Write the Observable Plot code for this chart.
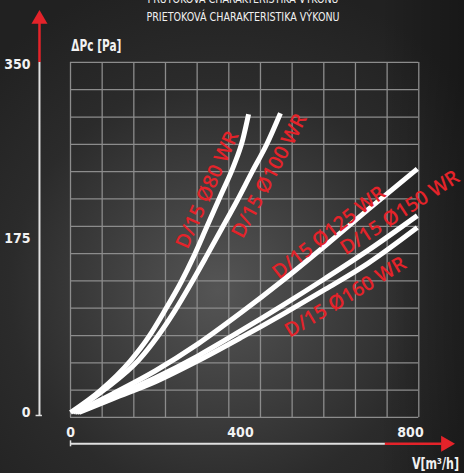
<!DOCTYPE html>
<html><head><meta charset="utf-8">
<script src="https://cdn.jsdelivr.net/npm/d3@7"></script>
<script src="https://cdn.jsdelivr.net/npm/@observablehq/plot@0.6"></script>
<style>
html,body{margin:0;padding:0;}
body{width:464px;height:473px;overflow:hidden;position:relative;
 background:
   linear-gradient(to right, rgba(0,0,0,0) 82%, rgba(0,0,0,0.28) 100%),
   radial-gradient(ellipse 320px 320px at 218px 290px, #555555 0%, #3e3e3e 35%, #2b2b2b 65%, #212121 100%);}
.title{position:absolute;left:18px;width:450px;text-align:center;color:#f0f0f0;
 font-family:"Liberation Sans Narrow","DejaVu Sans Condensed",sans-serif;font-stretch:condensed;font-size:12.5px;white-space:nowrap;
 transform:scaleX(0.85);transform-origin:225px 0;}
#t1{top:-9px} #t2{top:9px}
#chart{position:absolute;left:0;top:0;}
</style></head>
<body>
<div id="chart"></div>
<div class="title" id="t1">PRŮTOKOVÁ CHARAKTERISTIKA VÝKONU</div>
<div class="title" id="t2">PRIETOKOVÁ CHARAKTERISTIKA VÝKONU</div>
<script>
// ---- data (flow V [m³/h], pressure ΔPc [Pa]) ----
const seriesNames = ["D/15 Ø80 WR","D/15 Ø100 WR","D/15 Ø125 WR","D/15 Ø150 WR","D/15 Ø160 WR"];
const flowD80  = [0, 70, 141, 184, 224, 260, 290, 320, 353, 384, 405, 419];
const dpD80    = [0, 22,  52,  76, 104, 131, 157, 186, 218, 248, 274, 300];
const flowD100 = [5, 80, 161, 204, 245, 284, 321, 356, 392, 426, 462, 494];
const dpD100   = [0, 23,  53,  76, 102, 130, 158, 185, 213, 241, 270, 301];
const flowD125 = [10, 100, 200, 300, 400, 500, 600, 700, 816];
const dpD125   = [ 0,  19,  42,  69, 100, 133, 168, 204, 245];
const flowD150 = [15, 100, 200, 300, 400, 500, 600, 700, 816];
const dpD150   = [ 0,  16,  35,  57,  82, 108, 135, 163, 198];
const flowD160 = [20, 100, 200, 300, 400, 500, 600, 700, 816];
const dpD160   = [ 0,  14,  31,  52,  75,  99, 124, 150, 186];
// label anchors (data space) and text angles
const labelFlow  = [322, 468, 608, 775, 647];
const labelDp    = [224, 238, 181, 201, 116];
const labelAngle = [-66, -62, -38, -33, -31];
// tick labels
const yTicks = [0, 175, 350];
const xTicks = [0, 400, 800];
// background grid (data space)
const gridX = d3.range(12).map(i => i * 74.5);
const gridY = d3.range(14).map(i => -5 + i * 27.47);

const curves = [[flowD80,dpD80],[flowD100,dpD100],[flowD125,dpD125],[flowD150,dpD150],[flowD160,dpD160]];
const rows = curves.flatMap(([f,p],i) => f.map((x,j) => ({series: seriesNames[i], flow: x, dp: p[j]})));
const labels = seriesNames.map((s,i) => ({text: s, flow: labelFlow[i], dp: labelDp[i], angle: labelAngle[i]}));

const RED = "#e4232a";
const WHITE = "#f2f2f2";
const NARROW = "'Liberation Sans Narrow','DejaVu Sans Condensed',sans-serif";
const axisYPos = -73, axisXPos = -31.5;

const plot = Plot.plot({
  width: 464, height: 473,
  marginLeft: 70, marginRight: 54, marginTop: 64, marginBottom: 61,
  x: {domain: [0, 800], axis: null},
  y: {domain: [0, 350], axis: null},
  style: {background: "transparent", overflow: "visible"},
  marks: [
    Plot.ruleX(gridX, {y1: gridY[0], y2: gridY[gridY.length-1], stroke: "#8c8c8c", strokeWidth: 1.3}),
    Plot.ruleY(gridY, {x1: gridX[0], x2: gridX[gridX.length-1], stroke: "#8c8c8c", strokeWidth: 1.3}),
    // y axis
    Plot.ruleX([axisYPos], {y1: -3, y2: 352, stroke: "#e0e0e0", strokeWidth: 2}),
    Plot.ruleY([-3], {x1: -81, x2: -66, stroke: "#e0e0e0", strokeWidth: 1.5}),
    Plot.ruleX([axisYPos], {y1: 352, y2: 392, stroke: RED, strokeWidth: 2.5}),
    Plot.dot([0], {x: axisYPos, y: 395.6, symbol: "triangle", r: 5.95, fill: RED, stroke: null}),
    // x axis
    Plot.ruleY([axisXPos], {x1: 0, x2: 741, stroke: "#e0e0e0", strokeWidth: 2}),
    Plot.ruleX([0], {y1: -28.5, y2: -34.5, stroke: "#e0e0e0", strokeWidth: 1.5}),
    Plot.ruleY([axisXPos], {x1: 741, x2: 874, stroke: RED, strokeWidth: 2.5}),
    Plot.dot([0], {x: 883, y: axisXPos, symbol: "triangle", r: 5.95, rotate: 90, fill: RED, stroke: null}),
    // curves
    Plot.line(rows, {x: "flow", y: "dp", z: "series", stroke: "white", strokeWidth: 5, curve: "monotone-x", strokeLinecap: "butt"}),
    // curve labels
    Plot.text(labels, {x: "flow", y: "dp", text: "text", rotate: "angle", fill: RED, fontSize: 20, fontWeight: 600, fontFamily: "'Open Sans',sans-serif"}),
    // tick labels
    Plot.text(yTicks, {x: -94, y: d => d, text: d => String(d), textAnchor: "end", fill: WHITE, fontSize: 14, fontWeight: "bold", fontFamily: NARROW}),
    Plot.text(xTicks, {x: d => d, y: -20.4, text: d => String(d), fill: WHITE, fontSize: 14, fontWeight: "bold", fontFamily: NARROW}),
    // axis titles
    Plot.text(["ΔPc [Pa]"], {x: 2, y: 369, text: d => d, textAnchor: "start", fill: WHITE, fontSize: 15.5, fontWeight: "bold", fontFamily: NARROW, className: "ttl-y"}),
    Plot.text(["V[m³/h]"], {x: 914, y: -51.5, text: d => d, textAnchor: "end", fill: WHITE, fontSize: 15, fontWeight: "bold", fontFamily: NARROW, className: "ttl-x"})
  ]
});
// condense the axis titles to the reference's narrow type
d3.select(plot).selectAll(".ttl-y text").attr("textLength", 50).attr("lengthAdjust", "spacingAndGlyphs");
d3.select(plot).selectAll(".ttl-x text").attr("textLength", 47).attr("lengthAdjust", "spacingAndGlyphs");
document.getElementById("chart").append(plot);
</script>
</body></html>
